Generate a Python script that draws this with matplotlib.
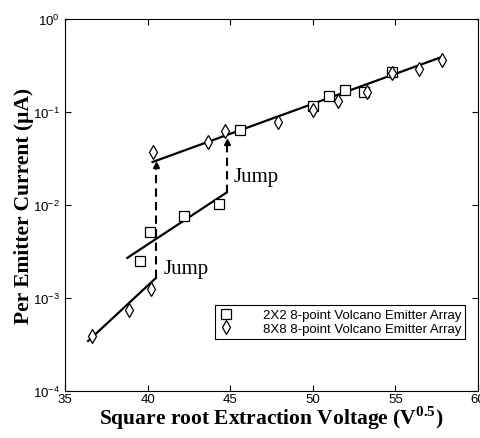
import numpy as np
import matplotlib
matplotlib.use("Agg")
import matplotlib.pyplot as plt
from matplotlib.ticker import FixedLocator, FuncFormatter, NullLocator

plt.rcParams["mathtext.fontset"] = "custom"
plt.rcParams["mathtext.rm"] = "Liberation Sans"
plt.rcParams["mathtext.bf"] = "Liberation Serif:bold"

# 2X2 array (squares)
sq_x = [39.56, 40.17, 42.18, 44.3, 45.58, 50.0, 51.0, 51.97, 53.07, 54.77]
sq_y = [2.5e-3, 5.1e-3, 7.6e-3, 1.02e-2, 0.064, 0.115, 0.149, 0.172, 0.164, 0.27]

# 8X8 array (diamonds)
di_x = [36.64, 38.9, 40.23, 40.35, 43.64, 44.67, 47.9, 50.0, 51.55, 53.3, 54.8, 56.4, 57.8]
di_y = [3.9e-4, 7.4e-4, 1.25e-3, 0.037, 0.047, 0.063, 0.078, 0.105, 0.131, 0.164, 0.265, 0.29, 0.36]

# fitted lines (end points)
fit_low8_x = [36.4, 40.5]
fit_low8_y = [3.45e-4, 1.64e-3]
fit_low2_x = [38.77, 44.75]
fit_low2_y = [2.7e-3, 1.35e-2]
fit_high_x = [40.3, 57.8]
fit_high_y = [0.029, 0.39]

# jumps
jump1_x = 40.5
jump1_y = [1.64e-3, 0.027]
jump2_x = 44.8
jump2_y = [1.35e-2, 0.047]

fig = plt.figure(figsize=(4.81, 4.39), dpi=100)
ax = fig.add_axes([65/481, 47/439, 413/481, 372/439])

for fx, fy in [(fit_low8_x, fit_low8_y), (fit_low2_x, fit_low2_y), (fit_high_x, fit_high_y)]:
    ax.plot(fx, fy, color="black", lw=1.6, zorder=2)

for jx, jy in [(jump1_x, jump1_y), (jump2_x, jump2_y)]:
    ax.plot([jx, jx], jy, color="black", lw=1.5, ls=(0, (4, 2.5)), zorder=2)
    ax.plot([jx], [jy[1]], marker="^", color="black", ms=4.5, zorder=3)

ax.plot(sq_x, sq_y, ls="none", marker="s", ms=6.5, mfc="white", mec="black", mew=0.9,
        label="2X2 8-point Volcano Emitter Array", zorder=4)
ax.plot(di_x, di_y, ls="none", marker="d", ms=7.5, mfc="white", mec="black", mew=0.9,
        label="8X8 8-point Volcano Emitter Array", zorder=4)

ax.text(45.2, 0.0205, "Jump", family="Liberation Serif", fontsize=15, va="center", ha="left")
ax.text(40.95, 2.1e-3, "Jump", family="Liberation Serif", fontsize=15, va="center", ha="left")

ax.set_yscale("log")
ax.set_xlim(35, 60)
ax.set_ylim(1e-4, 1)
ax.set_xticks([35, 40, 45, 50, 55, 60])
ax.yaxis.set_major_locator(FixedLocator([1e-4, 1e-3, 1e-2, 1e-1, 1]))
ax.yaxis.set_minor_locator(NullLocator())
ax.yaxis.set_major_formatter(FuncFormatter(lambda v, p: r"$\mathrm{10^{%d}}$" % round(np.log10(v))))
ax.tick_params(direction="in", top=True, right=True, length=4, width=0.8, labelsize=9.5)
ax.tick_params(axis="x", pad=1.5)
for lab in ax.get_xticklabels():
    lab.set_family("Liberation Sans")
for s in ax.spines.values():
    s.set_linewidth(0.8)

ax.set_xlabel(r"Square root Extraction Voltage (V$^{\mathbf{0.5}}$)", family="Liberation Serif",
              fontweight="bold", fontsize=15.5, labelpad=-1)
ax.set_ylabel("Per Emitter Current (\u03bcA)", family="Liberation Serif",
              fontweight="bold", fontsize=15.5)
ax.yaxis.set_label_coords(-0.075, 0.5)

leg = ax.legend(loc="lower right", bbox_to_anchor=(0.9685, 0.14), borderaxespad=0,
                prop={"family": "Liberation Sans", "size": 9.5}, fancybox=False,
                edgecolor="black", framealpha=1, handlelength=1.0, handletextpad=2.3,
                labelspacing=0.1, borderpad=0.3)
leg.get_frame().set_linewidth(0.8)

fig.savefig("out.png", dpi=100)
